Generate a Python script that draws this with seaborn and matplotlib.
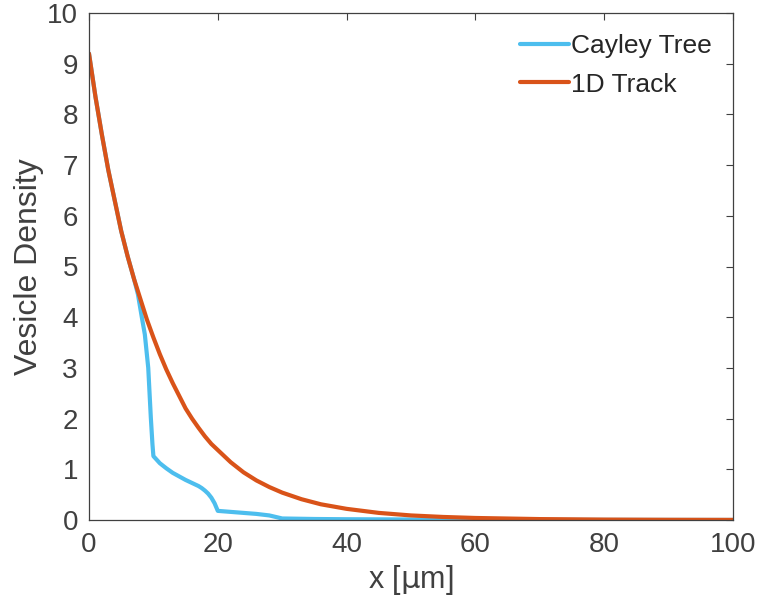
import pandas as pd
import matplotlib
matplotlib.use("Agg")
import matplotlib.pyplot as plt
import seaborn as sns

# valores
x_track = [0, 1, 2, 3, 4, 5, 6, 7, 8, 9, 10, 11, 12, 13, 14, 15, 16, 17, 18, 19,
           20, 22, 24, 26, 28, 30, 33, 36, 40, 45, 50, 55, 60, 70, 80, 90, 100]
y_track = [9.2, 8.35, 7.6, 6.9, 6.3, 5.7, 5.2, 4.75, 4.35, 3.95, 3.6, 3.27, 2.97,
           2.7, 2.45, 2.2, 2.0, 1.82, 1.65, 1.5, 1.38, 1.14, 0.94, 0.78, 0.65,
           0.54, 0.41, 0.31, 0.22, 0.14, 0.09, 0.06, 0.04, 0.018, 0.008, 0.004, 0.002]

x_tree = [0, 1, 2, 3, 4, 5, 6, 7, 7.6, 8.2, 8.67, 9.2, 9.6, 9.85, 10, 11, 12, 13,
          14, 15, 16, 17, 17.5, 18, 18.5, 19, 19.5, 19.8, 20, 22, 24, 26, 28, 29,
          30, 35, 40, 50, 60, 80, 100]
y_tree = [9.2, 8.35, 7.6, 6.9, 6.3, 5.7, 5.2, 4.75, 4.45, 4.0, 3.66, 3.0, 2.02,
          1.5, 1.26, 1.12, 1.02, 0.93, 0.86, 0.79, 0.73, 0.67, 0.63, 0.58, 0.52,
          0.44, 0.33, 0.24, 0.18, 0.16, 0.14, 0.12, 0.09, 0.06, 0.03, 0.02, 0.015,
          0.01, 0.005, 0.002, 0.001]

df = pd.concat([
    pd.DataFrame({'x': x_tree, 'y': y_tree, 'serie': 'Cayley Tree'}),
    pd.DataFrame({'x': x_track, 'y': y_track, 'serie': '1D Track'}),
], ignore_index=True)

sns.set_style("white")
plt.rcParams['font.family'] = ['Liberation Sans', 'DejaVu Sans']
gris = '#404040'

fig = plt.figure(figsize=(7.66, 6.01), dpi=100)
ax = fig.add_axes([89 / 766, 1 - 520 / 601, 644 / 766, 507 / 601])
sns.lineplot(data=df, x='x', y='y', hue='serie', sort=False, estimator=None,
             palette={'Cayley Tree': '#4DBEEE', '1D Track': '#D95319'},
             linewidth=3.0, ax=ax)

ax.set_xlim(0, 100)
ax.set_ylim(0, 10)
ax.set_xticks(range(0, 101, 20))
ax.set_yticks(range(0, 11))
ax.tick_params(direction='in', length=5, width=0.8, color=gris, labelcolor=gris,
               labelsize=20, top=True, right=True)
ax.tick_params(axis='x', pad=9)
ax.tick_params(axis='y', pad=8)
for s in ax.spines.values():
    s.set_color(gris)
    s.set_linewidth(0.9)
ax.set_xlabel('x [$\\mathrm{\\mu}$m]', fontsize=22, color=gris, labelpad=3)
ax.set_ylabel('Vesicle Density', fontsize=23, color=gris, labelpad=2)
leg = ax.legend(loc='upper right', frameon=False, fontsize=19, handlelength=1.85,
                handletextpad=0.1, labelspacing=0.55, borderaxespad=0.4)
for t in leg.get_texts():
    t.set_color('#262626')

plt.savefig('out.png', dpi=100)
